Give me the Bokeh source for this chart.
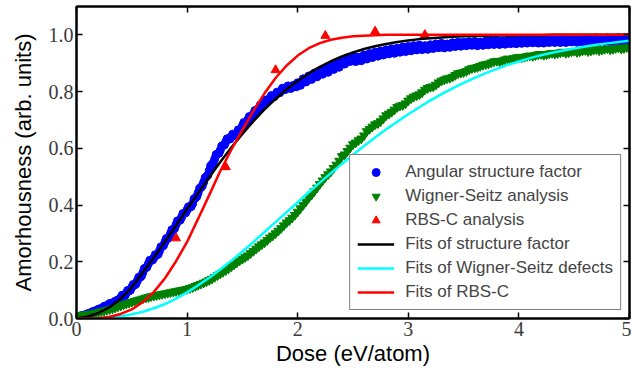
from bokeh.plotting import figure
from bokeh.models import Range1d, LinearAxis, FixedTicker, Legend, LegendItem
from bokeh.embed import file_html
from bokeh.resources import INLINE

# ---------------- data ----------------
dose_sim = [0.000, 0.025, 0.050, 0.075, 0.100, 0.125, 0.150, 0.175, 0.200, 0.225,
            0.250, 0.275, 0.300, 0.325, 0.350, 0.375, 0.400, 0.425, 0.450, 0.475,
            0.500, 0.525, 0.550, 0.575, 0.600, 0.625, 0.650, 0.675, 0.700, 0.725,
            0.750, 0.775, 0.800, 0.825, 0.850, 0.875, 0.900, 0.925, 0.950, 0.975,
            1.000, 1.025, 1.050, 1.075, 1.100, 1.125, 1.150, 1.175, 1.200, 1.225,
            1.250, 1.275, 1.300, 1.325, 1.350, 1.375, 1.400, 1.425, 1.450, 1.475,
            1.500, 1.525, 1.550, 1.575, 1.600, 1.625, 1.650, 1.675, 1.700, 1.725,
            1.750, 1.775, 1.800, 1.825, 1.850, 1.875, 1.900, 1.925, 1.950, 1.975,
            2.000, 2.025, 2.050, 2.075, 2.100, 2.125, 2.150, 2.175, 2.200, 2.225,
            2.250, 2.275, 2.300, 2.325, 2.350, 2.375, 2.400, 2.425, 2.450, 2.475,
            2.500, 2.525, 2.550, 2.575, 2.600, 2.625, 2.650, 2.675, 2.700, 2.725,
            2.750, 2.775, 2.800, 2.825, 2.850, 2.875, 2.900, 2.925, 2.950, 2.975,
            3.000, 3.025, 3.050, 3.075, 3.100, 3.125, 3.150, 3.175, 3.200, 3.225,
            3.250, 3.275, 3.300, 3.325, 3.350, 3.375, 3.400, 3.425, 3.450, 3.475,
            3.500, 3.525, 3.550, 3.575, 3.600, 3.625, 3.650, 3.675, 3.700, 3.725,
            3.750, 3.775, 3.800, 3.825, 3.850, 3.875, 3.900, 3.925, 3.950, 3.975,
            4.000, 4.025, 4.050, 4.075, 4.100, 4.125, 4.150, 4.175, 4.200, 4.225,
            4.250, 4.275, 4.300, 4.325, 4.350, 4.375, 4.400, 4.425, 4.450, 4.475,
            4.500, 4.525, 4.550, 4.575, 4.600, 4.625, 4.650, 4.675, 4.700, 4.725,
            4.750, 4.775, 4.800, 4.825, 4.850, 4.875, 4.900, 4.925, 4.950, 4.975,
            5.000]

angular_sf = [0.004, 0.008, 0.011, 0.013, 0.017, 0.020, 0.025, 0.028, 0.033, 0.036,
              0.043, 0.046, 0.053, 0.055, 0.061, 0.066, 0.073, 0.079, 0.089, 0.097,
              0.110, 0.118, 0.133, 0.145, 0.162, 0.178, 0.193, 0.205, 0.214, 0.224,
              0.238, 0.254, 0.270, 0.282, 0.300, 0.313, 0.331, 0.345, 0.357, 0.371,
              0.383, 0.392, 0.405, 0.425, 0.443, 0.462, 0.481, 0.500, 0.521, 0.543,
              0.563, 0.580, 0.593, 0.610, 0.623, 0.633, 0.641, 0.646, 0.653, 0.665,
              0.679, 0.690, 0.701, 0.711, 0.721, 0.732, 0.743, 0.751, 0.759, 0.768,
              0.777, 0.783, 0.789, 0.796, 0.803, 0.808, 0.813, 0.814, 0.815, 0.818,
              0.831, 0.822, 0.845, 0.834, 0.855, 0.843, 0.865, 0.852, 0.873, 0.861,
              0.881, 0.868, 0.889, 0.878, 0.899, 0.886, 0.907, 0.897, 0.919, 0.906,
              0.925, 0.906, 0.921, 0.909, 0.929, 0.915, 0.934, 0.920, 0.939, 0.925,
              0.943, 0.929, 0.947, 0.933, 0.951, 0.935, 0.953, 0.939, 0.957, 0.941,
              0.959, 0.944, 0.962, 0.947, 0.964, 0.948, 0.962, 0.949, 0.965, 0.952,
              0.968, 0.955, 0.970, 0.954, 0.968, 0.956, 0.972, 0.959, 0.974, 0.960,
              0.974, 0.962, 0.976, 0.963, 0.977, 0.962, 0.975, 0.963, 0.978, 0.965,
              0.979, 0.966, 0.980, 0.966, 0.978, 0.967, 0.981, 0.969, 0.982, 0.969,
              0.981, 0.970, 0.983, 0.971, 0.983, 0.972, 0.984, 0.971, 0.982, 0.971,
              0.985, 0.973, 0.985, 0.973, 0.986, 0.973, 0.984, 0.973, 0.986, 0.975,
              0.987, 0.974, 0.986, 0.975, 0.988, 0.975, 0.987, 0.976, 0.989, 0.976,
              0.988, 0.977, 0.989, 0.976, 0.988, 0.977, 0.990, 0.977, 0.989, 0.978,
              0.990]

# extra structure-factor samples in the steep part of the curve
dose_sim_fine = [0.4125, 0.4375, 0.4625, 0.4875, 0.5125, 0.5375, 0.5625, 0.5875,
                 0.6125, 0.6375, 0.6625, 0.6875, 0.7125, 0.7375, 0.7625, 0.7875,
                 0.8125, 0.8375, 0.8625, 0.8875, 0.9125, 0.9375, 0.9625, 0.9875,
                 1.0125, 1.0375, 1.0625, 1.0875, 1.1125, 1.1375, 1.1625, 1.1875,
                 1.2125, 1.2375, 1.2625, 1.2875, 1.3125, 1.3375, 1.3625, 1.3875,
                 1.4125, 1.4375, 1.4625, 1.4875, 1.5125, 1.5375, 1.5625, 1.5875,
                 1.6125, 1.6375, 1.6625, 1.6875, 1.7125, 1.7375, 1.7625, 1.7875,
                 1.8125, 1.8375, 1.8625, 1.8875, 1.9125, 1.9375, 1.9625, 1.9875]
angular_sf_fine = [0.082, 0.080, 0.099, 0.100, 0.120, 0.122, 0.145, 0.150,
                   0.176, 0.182, 0.205, 0.206, 0.225, 0.227, 0.252, 0.258,
                   0.282, 0.287, 0.313, 0.318, 0.344, 0.347, 0.370, 0.373,
                   0.394, 0.395, 0.421, 0.430, 0.458, 0.468, 0.496, 0.506,
                   0.538, 0.549, 0.578, 0.583, 0.608, 0.612, 0.634, 0.633,
                   0.650, 0.646, 0.665, 0.668, 0.691, 0.692, 0.712, 0.712,
                   0.733, 0.734, 0.753, 0.751, 0.770, 0.769, 0.786, 0.782,
                   0.798, 0.796, 0.812, 0.807, 0.820, 0.811, 0.822, 0.817]

wigner_seitz = [0.010, 0.011, 0.012, 0.013, 0.015, 0.016, 0.018, 0.020, 0.022, 0.025,
                0.027, 0.030, 0.032, 0.035, 0.038, 0.042, 0.045, 0.049, 0.052, 0.055,
                0.058, 0.061, 0.064, 0.067, 0.070, 0.073, 0.075, 0.078, 0.080, 0.082,
                0.084, 0.086, 0.088, 0.090, 0.092, 0.094, 0.096, 0.098, 0.100, 0.102,
                0.104, 0.107, 0.110, 0.114, 0.118, 0.122, 0.126, 0.130, 0.135, 0.140,
                0.146, 0.152, 0.158, 0.164, 0.170, 0.176, 0.183, 0.190, 0.197, 0.204,
                0.210, 0.216, 0.222, 0.230, 0.238, 0.246, 0.254, 0.261, 0.268, 0.276,
                0.285, 0.292, 0.300, 0.309, 0.318, 0.328, 0.338, 0.346, 0.355, 0.365,
                0.376, 0.388, 0.400, 0.412, 0.425, 0.436, 0.448, 0.461, 0.474, 0.486,
                0.498, 0.508, 0.518, 0.530, 0.542, 0.556, 0.572, 0.578, 0.590, 0.602,
                0.614, 0.620, 0.628, 0.634, 0.645, 0.660, 0.668, 0.676, 0.684, 0.688,
                0.695, 0.705, 0.716, 0.722, 0.728, 0.736, 0.745, 0.750, 0.752, 0.758,
                0.768, 0.776, 0.782, 0.786, 0.790, 0.797, 0.806, 0.812, 0.816, 0.818,
                0.824, 0.832, 0.838, 0.842, 0.846, 0.848, 0.852, 0.858, 0.864, 0.866,
                0.868, 0.872, 0.878, 0.882, 0.884, 0.886, 0.890, 0.894, 0.896, 0.898,
                0.902, 0.906, 0.908, 0.906, 0.909, 0.913, 0.916, 0.914, 0.917, 0.920,
                0.922, 0.920, 0.922, 0.925, 0.927, 0.925, 0.928, 0.931, 0.932, 0.929,
                0.931, 0.934, 0.936, 0.933, 0.935, 0.938, 0.940, 0.936, 0.938, 0.941,
                0.943, 0.939, 0.941, 0.944, 0.946, 0.942, 0.944, 0.947, 0.949, 0.945,
                0.947, 0.950, 0.952, 0.948, 0.950, 0.953, 0.955, 0.951, 0.953, 0.956,
                0.958]

dose_rbs = [0.90, 1.35, 1.80, 2.25, 2.70, 3.15]
rbs_c = [0.283, 0.534, 0.876, 0.997, 1.012, 1.000]

dose_fit = [0.0, 0.1, 0.2, 0.3, 0.4, 0.5, 0.6, 0.7, 0.8, 0.9,
            1.0, 1.1, 1.2, 1.3, 1.4, 1.5, 1.6, 1.7, 1.8, 1.9,
            2.0, 2.1, 2.2, 2.3, 2.4, 2.5, 2.6, 2.7, 2.8, 2.9,
            3.0, 3.1, 3.2, 3.3, 3.4, 3.5, 3.6, 3.7, 3.8, 3.9,
            4.0, 4.1, 4.2, 4.3, 4.4, 4.5, 4.6, 4.7, 4.8, 4.9,
            5.0]

fit_sf = [0.000, 0.006, 0.020, 0.040, 0.070, 0.110, 0.162, 0.215, 0.271, 0.328,
          0.386, 0.442, 0.498, 0.552, 0.603, 0.651, 0.696, 0.737, 0.774, 0.808,
          0.838, 0.864, 0.887, 0.907, 0.924, 0.938, 0.950, 0.960, 0.968, 0.975,
          0.980, 0.985, 0.988, 0.991, 0.993, 0.995, 0.996, 0.997, 0.998, 0.998,
          0.999, 0.999, 0.999, 1.000, 1.000, 1.000, 1.000, 1.000, 1.000, 1.000,
          1.000]

fit_ws = [0.000, 0.000, 0.001, 0.003, 0.008, 0.015, 0.024, 0.036, 0.051, 0.070,
          0.092, 0.117, 0.144, 0.173, 0.204, 0.236, 0.270, 0.305, 0.340, 0.375,
          0.410, 0.445, 0.479, 0.512, 0.545, 0.577, 0.608, 0.638, 0.667, 0.694,
          0.720, 0.745, 0.769, 0.791, 0.811, 0.831, 0.848, 0.865, 0.880, 0.894,
          0.906, 0.918, 0.928, 0.937, 0.945, 0.952, 0.959, 0.965, 0.970, 0.975,
          0.979]

fit_rbs = [0.000, 0.000, 0.001, 0.006, 0.016, 0.032, 0.058, 0.094, 0.142, 0.202,
           0.270, 0.352, 0.435, 0.520, 0.595, 0.665, 0.732, 0.794, 0.848, 0.892,
           0.927, 0.953, 0.971, 0.983, 0.990, 0.995, 0.997, 0.999, 1.000, 1.000,
           1.000, 1.000, 1.000, 1.000, 1.000, 1.000, 1.000, 1.000, 1.000, 1.000,
           1.000, 1.000, 1.000, 1.000, 1.000, 1.000, 1.000, 1.000, 1.000, 1.000,
           1.000]

x_ticks = [0, 1, 2, 3, 4, 5]
x_tick_labels = ["0", "1", "2", "3", "4", "5"]
y_ticks = [0.0, 0.2, 0.4, 0.6, 0.8, 1.0]
y_tick_labels = ["0.0", "0.2", "0.4", "0.6", "0.8", "1.0"]

legend_labels = ["Angular structure factor", "Wigner-Seitz analysis", "RBS-C analysis",
                 "Fits of structure factor", "Fits of Wigner-Seitz defects", "Fits of RBS-C"]

# ---------------- figure ----------------
p = figure(width=631, height=374, output_backend="svg", toolbar_location=None,
           x_range=Range1d(0, 5), y_range=Range1d(0, 1.1),
           min_border_left=76, min_border_right=2, min_border_top=6, min_border_bottom=56)
p.background_fill_color = "white"
p.border_fill_color = "white"
p.grid.visible = False
p.outline_line_color = "black"
p.outline_line_width = 2

TICK_FONT = "Liberation Serif"
LABEL_FONT = "Liberation Sans"

xa = p.xaxis[0]
xa.ticker = FixedTicker(ticks=x_ticks)
xa.major_label_overrides = {t: l for t, l in zip(x_ticks, x_tick_labels)}
xa.axis_label = "Dose (eV/atom)"
ya = p.yaxis[0]
ya.ticker = FixedTicker(ticks=y_ticks)
ya.major_label_overrides = {t: l for t, l in zip(y_ticks, y_tick_labels)}
ya.axis_label = "Amorhousness (arb. units)"

for ax in (xa, ya):
    ax.axis_line_width = 2
    ax.axis_line_color = "black"
    ax.major_tick_in = 6
    ax.major_tick_out = 0
    ax.major_tick_line_width = 1.5
    ax.minor_tick_in = 0
    ax.minor_tick_out = 0
    ax.major_label_text_font = TICK_FONT
    ax.major_label_text_font_size = "20px"
    ax.major_label_text_color = "#3a3a3a"
    ax.axis_label_text_font = LABEL_FONT
    ax.axis_label_text_font_size = "22px"
    ax.axis_label_text_font_style = "normal"
    ax.axis_label_text_color = "black"
xa.major_label_standoff = 3
xa.axis_label_standoff = 2
ya.major_label_standoff = 3
ya.axis_label_standoff = 10

# mirrored ticks on top and right
for side, tk in (("above", x_ticks), ("right", y_ticks)):
    ax = LinearAxis(ticker=FixedTicker(ticks=tk), major_label_text_font_size="0px",
                    major_label_standoff=0, major_tick_in=6, major_tick_out=0,
                    minor_tick_in=0, minor_tick_out=0, axis_line_width=2,
                    major_tick_line_width=1.5)
    p.add_layout(ax, side)

r_blue = p.scatter(dose_sim + dose_sim_fine, angular_sf + angular_sf_fine,
                   marker="circle", size=8, fill_color="#0000ff", line_color="#0000ff")
r_green = p.scatter(dose_sim, wigner_seitz, marker="inverted_triangle", size=9,
                    fill_color="#008000", line_color="#008000")
r_red = p.scatter(dose_rbs, rbs_c, marker="triangle", size=9,
                  fill_color="#ff0000", line_color="#ff0000")
l_black = p.line(dose_fit, fit_sf, line_color="black", line_width=2.5)
l_cyan = p.line(dose_fit, fit_ws, line_color="#00ffff", line_width=2.5)
l_red = p.line(dose_fit, fit_rbs, line_color="#ff0000", line_width=2.5)

renderers = [r_blue, r_green, r_red, l_black, l_cyan, l_red]
legend = Legend(items=[LegendItem(label=lab, renderers=[r]) for lab, r in zip(legend_labels, renderers)],
                location="bottom_right", margin=8, padding=7, spacing=4,
                glyph_width=37, glyph_height=20, label_height=20, label_standoff=11,
                label_text_font=LABEL_FONT, label_text_font_size="17px",
                border_line_color="black", border_line_width=1.5,
                background_fill_color="white", background_fill_alpha=1.0)
p.add_layout(legend, "center")

open("out.html", "w").write(file_html(p, INLINE))
